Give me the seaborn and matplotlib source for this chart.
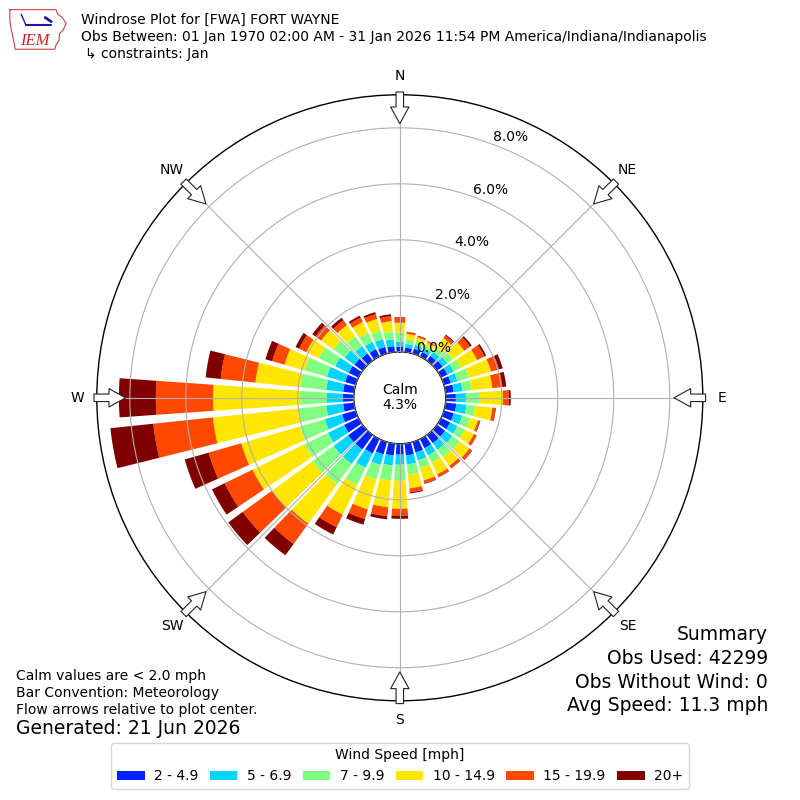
import numpy as np
import matplotlib
matplotlib.use("Agg")
import matplotlib.pyplot as plt
import seaborn as sns

# wind rose values, percent of obs, per 10 degree sector (0 = N, clockwise)
directions = np.arange(0, 360, 10)
speed_labels = ["2 - 4.9", "5 - 6.9", "7 - 9.9", "10 - 14.9", "15 - 19.9", "20+"]

pct_2_5 = [0.18, 0.16, 0.18, 0.18, 0.21, 0.25, 0.25, 0.25, 0.29, 0.36, 0.39, 0.36,
           0.36, 0.36, 0.36, 0.36, 0.39, 0.43, 0.39, 0.43, 0.46, 0.57, 0.64, 0.64,
           0.57, 0.50, 0.39, 0.39, 0.39, 0.39, 0.39, 0.36, 0.32, 0.29, 0.25, 0.21]
pct_5_7 = [0.18, 0.13, 0.14, 0.14, 0.18, 0.21, 0.25, 0.25, 0.32, 0.36, 0.36, 0.32,
           0.29, 0.32, 0.29, 0.29, 0.29, 0.32, 0.36, 0.36, 0.39, 0.57, 0.64, 0.64,
           0.64, 0.64, 0.61, 0.57, 0.61, 0.68, 0.54, 0.43, 0.32, 0.29, 0.29, 0.25]
pct_7_10 = [0.32, 0.18, 0.14, 0.11, 0.18, 0.25, 0.29, 0.43, 0.32, 0.50, 0.32, 0.29,
            0.29, 0.32, 0.32, 0.29, 0.29, 0.36, 0.57, 0.54, 0.54, 0.68, 0.89, 0.93,
            0.93, 0.93, 1.00, 0.96, 0.93, 0.82, 0.64, 0.50, 0.43, 0.36, 0.32, 0.29]
pct_10_15 = [0.36, 0.18, 0.14, 0.14, 0.43, 0.50, 0.64, 0.82, 0.75, 0.82, 0.61, 0.29,
             0.36, 0.43, 0.39, 0.46, 0.46, 0.50, 1.00, 0.96, 1.11, 1.18, 1.75, 1.79,
             2.07, 2.18, 3.07, 3.11, 1.61, 0.75, 0.50, 0.54, 0.50, 0.43, 0.43, 0.36]
pct_15_20 = [0.18, 0.07, 0.05, 0.04, 0.11, 0.25, 0.29, 0.29, 0.36, 0.21, 0.11, 0.07,
             0.11, 0.11, 0.11, 0.11, 0.11, 0.14, 0.25, 0.32, 0.36, 0.50, 0.89, 1.29,
             1.11, 1.21, 2.14, 2.04, 1.25, 0.46, 0.29, 0.25, 0.21, 0.18, 0.18, 0.18]
pct_20p = [0.02, 0.01, 0.02, 0.01, 0.04, 0.07, 0.07, 0.14, 0.14, 0.07, 0.02, 0.02,
           0.01, 0.02, 0.01, 0.01, 0.02, 0.04, 0.11, 0.11, 0.21, 0.29, 0.50, 0.64,
           0.50, 0.89, 1.54, 1.32, 0.54, 0.25, 0.14, 0.14, 0.11, 0.07, 0.07, 0.07]

calm_pct = 4.3
ring_values = [0, 2, 4, 6, 8]
compass = ["N", "NE", "E", "SE", "S", "SW", "W", "NW"]

sns.set_theme(style="white", rc={
    "axes.grid": True, "grid.color": "#b0b0b0", "grid.linewidth": 0.8,
    "text.color": "black", "axes.edgecolor": "black",
})
plt.rcParams["font.family"] = ["DejaVu Sans"]

colors = sns.color_palette(["#0022ff", "#00d4ff", "#80ff80", "#ffe600", "#ff4800", "#800000"])

fig = plt.figure(figsize=(8, 8), dpi=100)
ax = fig.add_axes([0.121, 0.124, 0.7575, 0.7575], projection="polar")
ax.set_theta_zero_location("N")
ax.set_theta_direction(-1)
ax.set_rorigin(-1.643)
ax.set_ylim(0, 9.18)
ax.set_axisbelow(False)

theta = np.deg2rad(directions)
bottom = np.zeros(len(directions))
series = [pct_2_5, pct_5_7, pct_7_10, pct_10_15, pct_15_20, pct_20p]
for vals, col, lab in zip(series, colors, speed_labels):
    vals = np.array(vals)
    ax.bar(theta, vals, width=np.deg2rad(8), bottom=bottom, color=col,
           linewidth=0, label=lab, zorder=1)
    bottom += vals

ax.set_xticks(np.deg2rad(np.arange(0, 360, 45)))
ax.set_xticklabels([])
ax.set_yticks(ring_values)
ax.set_yticklabels([])
ax.grid(True, color="#b0b0b0", linewidth=0.8)
for sp in ax.spines.values():
    sp.set_linewidth(1.0)
    sp.set_color("black")

# ring labels
for v in ring_values:
    ax.annotate(f"{v:.1f}%", xy=(np.deg2rad(20), v), xytext=(18, 7),
                textcoords="offset pixels", ha="center", va="center",
                fontsize=10, annotation_clip=False)

# compass labels and flow arrows
for i, name in enumerate(compass):
    th = np.deg2rad(i * 45)
    ax.text(th, 9.86, name, ha="center", va="center", fontsize=10)
    ax.annotate("", xy=(th, 8.15), xytext=(th, 9.28),
                arrowprops=dict(arrowstyle="simple,head_length=1.0,head_width=1.1,tail_width=0.45",
                                fc="white", ec="#222222", lw=0.8, mutation_scale=12,
                                shrinkA=0, shrinkB=0),
                annotation_clip=False, zorder=5)

ax.text(0.5, 0.5, f"Calm\n{calm_pct:.1f}%", transform=ax.transAxes,
        ha="center", va="center", fontsize=10, linespacing=1.1)

# header
fig.text(81 / 800, 1 - 20 / 800, "Windrose Plot for [FWA] FORT WAYNE", va="center", fontsize=10)
fig.text(81 / 800, 1 - 37 / 800,
         "Obs Between: 01 Jan 1970 02:00 AM - 31 Jan 2026 11:54 PM America/Indiana/Indianapolis",
         va="center", fontsize=10)
fig.text(85 / 800, 1 - 54 / 800, "\u21b3 constraints: Jan", va="center", fontsize=10)

# logo
lax = fig.add_axes([8 / 800, 1 - 52 / 800, 60 / 800, 46 / 800])
lax.set_xlim(0, 1)
lax.set_ylim(0, 1)
lax.axis("off")
iowa_x = [0.03, 0.80, 0.83, 0.90, 0.97, 0.92, 0.86, 0.85, 0.80, 0.78, 0.12, 0.09, 0.05, 0.03, 0.03]
iowa_y = [0.92, 0.92, 0.82, 0.76, 0.62, 0.48, 0.40, 0.25, 0.15, 0.06, 0.06, 0.28, 0.52, 0.70, 0.92]
lax.plot(iowa_x, iowa_y, color="#d04040", lw=0.8)
lax.plot([0.30, 0.72], [0.58, 0.58], color="#1a1aa0", lw=1.5)
lax.plot([0.30, 0.22], [0.58, 0.82], color="#1a1aa0", lw=1.0)
lax.plot([0.62, 0.72], [0.75, 0.66], color="#1a1aa0", lw=2.0)
lax.text(0.45, 0.24, "IEM", color="#d02020", fontsize=12, style="italic",
         family="Liberation Serif", ha="center", va="center")

# notes
fig.text(16 / 800, 1 - 676 / 800, "Calm values are < 2.0 mph", va="center", fontsize=10)
fig.text(16 / 800, 1 - 693 / 800, "Bar Convention: Meteorology", va="center", fontsize=10)
fig.text(16 / 800, 1 - 710 / 800, "Flow arrows relative to plot center.", va="center", fontsize=10)
fig.text(16 / 800, 1 - 729 / 800, "Generated: 21 Jun 2026", va="center", fontsize=13.5)

summary = ["Summary", "Obs Used: 42299", "Obs Without Wind: 0", "Avg Speed: 11.3 mph"]
for k, line in enumerate(summary):
    fig.text(768 / 800, 1 - (635 + 23.5 * k) / 800, line, ha="right", va="center", fontsize=13.5)

handles, labels = ax.get_legend_handles_labels()
fig.legend(handles, labels, loc="lower center", bbox_to_anchor=(400 / 800, 11 / 800),
           ncol=6, title="Wind Speed [mph]", fontsize=10, title_fontsize=10,
           handlelength=2.0, handletextpad=0.67, columnspacing=0.82, borderaxespad=0,
           frameon=True, edgecolor="#cccccc")

fig.savefig("out.png", dpi=100, facecolor="white")
